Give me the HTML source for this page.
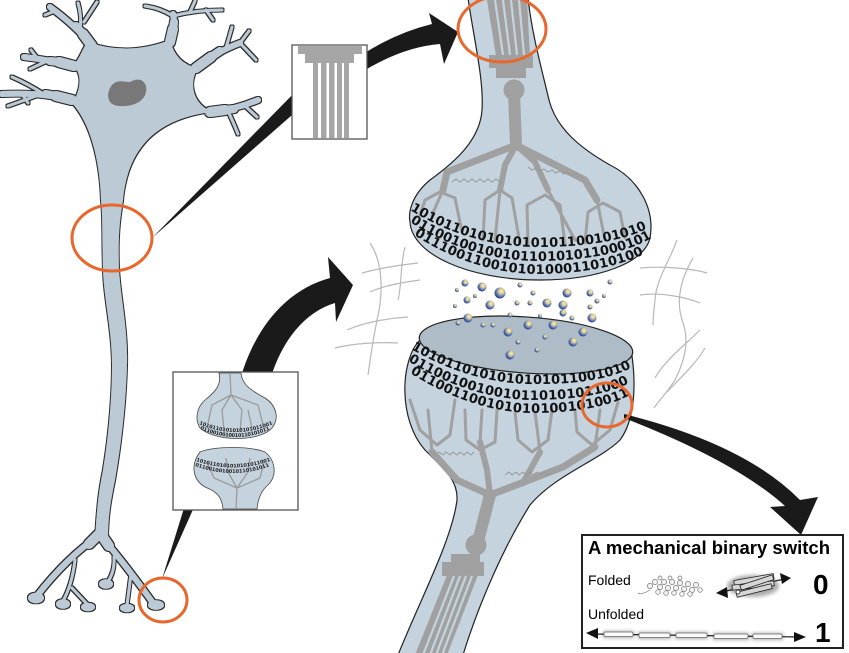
<!DOCTYPE html>
<html><head><meta charset="utf-8"><style>
html,body{margin:0;padding:0;background:#fff;}
svg{display:block;}
</style></head><body>
<svg width="849" height="653" viewBox="0 0 849 653" xmlns="http://www.w3.org/2000/svg">
<defs>
 <radialGradient id="ves" cx="62%" cy="35%" r="70%">
  <stop offset="0" stop-color="#f7f0c6"/>
  <stop offset="0.35" stop-color="#d9ca8c"/>
  <stop offset="0.6" stop-color="#6a83c0"/>
  <stop offset="1" stop-color="#1d347c"/>
 </radialGradient>
 <filter id="blur" x="-30%" y="-80%" width="160%" height="260%"><feGaussianBlur stdDeviation="1.8"/></filter>
 <filter id="outline" filterUnits="userSpaceOnUse" x="0" y="0" width="849" height="653">
  <feMorphology in="SourceAlpha" operator="dilate" radius="0.9" result="d"/>
  <feFlood flood-color="#2c2c2c"/>
  <feComposite in2="d" operator="in" result="o"/>
  <feMerge><feMergeNode in="o"/><feMergeNode in="SourceGraphic"/></feMerge>
 </filter>
 <path id="u1" d="M 410 210 Q 470 247 540 247 Q 610 247 649 228"/>
 <path id="u2" d="M 410 222 Q 470 261 540 261 Q 610 260 648 240"/>
 <path id="u3" d="M 414 235 Q 475 274 540 274 Q 605 273 644 254"/>
 <path id="l1" d="M 411 349 Q 470 383 530 384 Q 600 385 633 367"/>
 <path id="l2" d="M 408 361 Q 468 398 530 400 Q 600 400 633 381"/>
 <path id="l3" d="M 410 373 Q 470 411 530 413 Q 595 413 628 396"/>
 <path id="m1" d="M 199 424 Q 235 440 273 424"/>
 <path id="m2" d="M 200 429 Q 236 445 271 429"/>
 <path id="m3" d="M 196 461 Q 233 474 270 461"/>
 <path id="m4" d="M 195 466 Q 233 480 270 466"/>
</defs>

<rect width="849" height="653" fill="#fff"/>

<!-- fibers -->
<g fill="none" stroke="#b8b8b8" stroke-width="1.2">
 <path d="M 370 243 C 385 265 382 300 377 320 C 372 345 370 360 368 375"/>
 <path d="M 405 247 C 400 265 402 285 398 300"/>
 <path d="M 362 273 C 380 268 400 265 418 263"/>
 <path d="M 370 292 C 385 285 405 282 420 280"/>
 <path d="M 347 330 C 365 322 390 318 408 317"/>
 <path d="M 335 348 C 355 343 380 342 398 343"/>
 <path d="M 677 240 C 670 260 656 280 655 300 C 654 310 653 318 653 325"/>
 <path d="M 693 258 C 680 280 676 300 682 320 C 690 340 685 360 675 380 C 665 395 658 402 654 408"/>
 <path d="M 640 268 C 660 266 690 268 707 273"/>
 <path d="M 640 295 C 660 292 685 297 700 303"/>
 <path d="M 700 330 C 685 345 665 360 655 378"/>
 <path d="M 705 348 C 695 365 680 378 667 392"/>
</g>

<!-- neuron -->
<g filter="url(#outline)">
 <path d="M 88 42 Q 128 56 170 40 Q 176 64 198 68 C 190 80 190 102 212 112 C 160 118 128 145 123 200 C 119 225 118 240 119 270 C 121 300 128 330 127 365 C 126 400 122 440 115 480 C 111 500 108 515 108 540 L 95 540 C 97 505 99 490 103 470 C 108 440 112 400 112 365 C 112 330 104 300 103 270 C 102 240 103 220 101 200 C 100 165 92 125 72 103 C 82 90 82 70 72 66 C 80 60 82 48 88 42 Z" fill="#bccad6"/>
 <g fill="none" stroke="#bccad6" stroke-linecap="round" stroke-linejoin="round">
  <g stroke-width="6">
   <path d="M 92 46 Q 76 26 50 7"/>
   <path d="M 170 42 Q 176 28 173 14"/>
   <path d="M 196 68 Q 216 52 240 43"/>
   <path d="M 210 112 Q 234 110 258 100"/>
   <path d="M 74 66 Q 50 60 24 57"/>
   <path d="M 72 100 Q 40 92 2 94"/>
   <path d="M 100 535 Q 68 556 36 597"/>
   <path d="M 100 535 Q 122 560 153 603"/>
  </g>
  <g stroke-width="10">
   <path d="M 92 46 L 83 34"/>
   <path d="M 170 42 L 173 29"/>
   <path d="M 196 68 L 211 57"/>
   <path d="M 210 112 L 225 110"/>
   <path d="M 74 66 L 59 62"/>
   <path d="M 72 100 L 56 96"/>
   <path d="M 100 533 L 89 544"/>
   <path d="M 100 533 L 109 546"/>
  </g>
  <g stroke-width="8">
   <path d="M 83 34 L 76 26"/>
   <path d="M 173 29 L 174 22"/>
   <path d="M 211 57 L 220 51"/>
   <path d="M 225 110 L 234 109"/>
   <path d="M 59 62 L 50 61"/>
   <path d="M 56 96 L 46 94"/>
  </g>
  <g stroke-width="3">
   <path d="M 80 30 Q 82 16 78 3"/>
   <path d="M 84 22 L 97 2"/>
   <path d="M 55 11 L 45 15"/>
   <path d="M 173 16 Q 160 8 145 6"/>
   <path d="M 173 16 Q 196 10 222 10"/>
   <path d="M 190 12 L 195 1"/>
   <path d="M 206 10 L 213 20"/>
   <path d="M 240 43 L 256 60"/>
   <path d="M 240 43 L 249 31"/>
   <path d="M 226 48 L 232 27"/>
   <path d="M 244 105 L 257 117"/>
   <path d="M 228 111 Q 234 124 238 134"/>
   <path d="M 47 61 L 30 69"/>
   <path d="M 38 59 L 31 50"/>
   <path d="M 42 93 Q 28 84 12 77"/>
   <path d="M 36 96 L 8 106"/>
   <path d="M 22 94 L 28 103"/>
   <path d="M 75 560 Q 72 585 63 601"/>
   <path d="M 72 588 L 88 605"/>
   <path d="M 114 557 Q 115 572 107 583"/>
   <path d="M 131 574 L 127 605"/>
  </g>
 </g>
 <g fill="#bccad6">
  <ellipse cx="36" cy="598" rx="8" ry="5.3"/>
  <ellipse cx="63" cy="604" rx="7" ry="4.8"/>
  <ellipse cx="88" cy="607" rx="7" ry="4.3"/>
  <ellipse cx="106" cy="584" rx="7" ry="4.8"/>
  <ellipse cx="127" cy="608" rx="7" ry="4.3"/>
  <ellipse cx="156" cy="605" rx="8" ry="4.8"/>
 </g>
</g>
<path d="M 110 88 C 115 78 125 82 130 82 C 140 76 148 82 146 92 C 144 102 132 107 120 106 C 108 106 106 96 110 88 Z" fill="#787878"/>

<!-- arrows (left) -->
<g fill="#1a1a1a">
 <path d="M 152 238 L 300 87 L 300 108 Z"/>
 <path d="M 360 56 Q 395 33 432 24 L 429 13 L 458 32 L 444 64 L 440 44 Q 402 47 360 73 Z"/>
 <path d="M 162 579 L 185 505 L 195 505 Z"/>
 <path d="M 240 380 C 254 330 285 290 330 278 L 328 257 L 353 285 L 336 322 L 335 303 C 305 312 282 340 270 380 Z"/>
</g>

<!-- top inset -->
<rect x="292" y="45" width="75" height="94" fill="#fff" stroke="#555" stroke-width="1.3"/>
<g fill="#a6a6a6">
 <rect x="298" y="46" width="64" height="8"/>
 <rect x="305" y="53" width="49" height="10"/>
 <rect x="313" y="62" width="5" height="76"/>
 <rect x="321" y="62" width="5.5" height="76"/>
 <rect x="329" y="62" width="5.5" height="76"/>
 <rect x="337" y="62" width="5" height="76"/>
 <rect x="344" y="62" width="5" height="76"/>
</g>

<!-- bottom inset -->
<rect x="173" y="372" width="125" height="138" fill="#fff" stroke="#555" stroke-width="1.3"/>
<path d="M 219 373 C 222 385 215 392 205 400 C 196 408 195 420 200 428 C 215 442 260 442 272 428 C 280 418 276 405 265 398 C 250 390 242 384 241 373 Z" fill="#c4d3de" stroke="#444" stroke-width="0.8"/>
<path d="M 200 452 C 190 465 193 480 205 487 C 218 492 222 498 223 509 L 257 509 C 258 498 262 490 268 485 C 278 475 275 460 265 452 C 250 446 215 446 200 452 Z" fill="#c4d3de" stroke="#444" stroke-width="0.8"/>
<g fill="none" stroke="#9a9a9a" stroke-width="1.3">
 <path d="M 230 373 L 231 395 L 212 405 L 208 423 M 231 395 L 222 410 L 224 430 M 231 395 L 242 410 L 240 432 M 231 395 L 258 405 L 263 425 M 248 410 L 252 428"/>
 <path d="M 236 509 L 237 488 L 214 478 L 207 462 M 237 488 L 228 472 L 226 458 M 237 488 L 248 472 L 250 458 M 237 488 L 260 478 L 264 462"/>
</g>
<g font-family="DejaVu Sans" font-weight="bold" font-size="5" fill="#222">
 <text><textPath href="#m1" textLength="76" lengthAdjust="spacing">1010110101010101011001</textPath></text>
 <text><textPath href="#m2" textLength="72" lengthAdjust="spacing">0110010010010110101011</textPath></text>
 <text><textPath href="#m3" textLength="76" lengthAdjust="spacing">1010110101010101011001</textPath></text>
 <text><textPath href="#m4" textLength="76" lengthAdjust="spacing">0110010010010110101011</textPath></text>
</g>

<!-- upper bulb -->
<path d="M 468 -2 C 474 40 484 80 482 110 C 480 140 455 162 430 180 C 412 195 408 212 410 222 C 412 255 470 280 540 280 C 600 280 645 262 650 238 C 655 210 640 180 610 165 C 580 148 556 128 549 100 C 542 70 532 35 528 -2 Z" fill="#c4d3de" stroke="#222" stroke-width="1.2"/>
<g fill="#a0a0a0">
 <path d="M 487 0 L 527 0 L 530 56 L 496 56 Z"/>
 <rect x="489" y="55" width="44" height="13"/>
 <rect x="496" y="67" width="30" height="11"/>
 <circle cx="514" cy="90" r="10.5"/>
</g>
<g stroke="#c4d3de" stroke-width="2.2">
 <line x1="495" y1="0" x2="503" y2="55"/>
 <line x1="503" y1="0" x2="510" y2="55"/>
 <line x1="511" y1="0" x2="517" y2="55"/>
 <line x1="519" y1="0" x2="524" y2="55"/>
</g>
<g fill="none" stroke="#a0a0a0" stroke-linecap="round" stroke-linejoin="round">
 <path d="M 514 92 L 516 145" stroke-width="12"/>
 <path d="M 516 145 L 447 172 L 443 190" stroke-width="7"/>
 <path d="M 516 145 L 505 165 L 500 190" stroke-width="6"/>
 <path d="M 516 145 L 535 162 L 548 190" stroke-width="6"/>
 <path d="M 516 145 L 585 180 L 597 200" stroke-width="7"/>
 <g stroke-width="3">
  <path d="M 420 215 L 425 200 L 440 192 L 455 198 L 462 232"/>
  <path d="M 483 240 L 485 200 L 500 190 L 512 198 L 520 244"/>
  <path d="M 528 245 L 527 205 L 545 195 L 560 205 L 565 245"/>
  <path d="M 585 243 L 588 212 L 603 203 L 620 212 L 625 238"/>
  <path d="M 443 190 L 432 215 M 500 190 L 495 240 M 548 190 L 575 240 M 597 200 L 605 240"/>
 </g>
</g>
<g fill="none" stroke="#999" stroke-width="1">
 <path d="M 452 182 l 4 -3 l 4 3 l 4 -3 l 4 3 l 4 -3 l 4 3 l 4 -3 l 4 3 l 4 -3 l 4 3 l 4 -3 l 4 3"/>
 <path d="M 528 167 l 4 3 l 4 -2 l 4 3 l 4 -2 l 4 3 l 4 -2 l 4 3 l 4 -2 l 4 3 l 4 -2 l 4 3 l 4 -2 l 4 3"/>
</g>
<g font-family="DejaVu Sans" font-weight="bold" font-size="13" fill="#111">
 <text><textPath href="#u1" textLength="255" lengthAdjust="spacing">1010110101010101011001010101</textPath></text>
 <text><textPath href="#u2" textLength="253" lengthAdjust="spacing">0110010010010110101011000101</textPath></text>
 <text><textPath href="#u3" textLength="240" lengthAdjust="spacing">01110011001010100011010100</textPath></text>
</g>

<!-- lower bulb -->
<path d="M 420 340 C 400 360 398 420 425 450 C 445 470 458 480 457 500 C 452 540 420 600 398 655 L 463 655 C 480 600 505 545 530 505 C 555 475 600 460 620 440 C 635 420 636 385 632 356 Z" fill="#c4d3de" stroke="#222" stroke-width="1.2"/>
<g fill="#a0a0a0">
 <path d="M 447 575 L 478 575 L 447 655 L 415 655 Z"/>
 <rect x="442" y="562" width="42" height="14"/>
 <rect x="451" y="554" width="29" height="9"/>
 <circle cx="476" cy="545" r="10.5"/>
</g>
<g stroke="#c4d3de" stroke-width="2.2">
 <line x1="454" y1="576" x2="423" y2="655"/>
 <line x1="460" y1="576" x2="430" y2="655"/>
 <line x1="466" y1="576" x2="436" y2="655"/>
 <line x1="472" y1="576" x2="442" y2="655"/>
</g>
<g fill="none" stroke="#a0a0a0" stroke-linecap="round" stroke-linejoin="round">
 <path d="M 477 545 L 490 495" stroke-width="12"/>
 <path d="M 490 495 L 457 480 L 432 452" stroke-width="7"/>
 <path d="M 490 495 L 487 470 L 480 442" stroke-width="6"/>
 <path d="M 490 495 L 523 483 L 540 452" stroke-width="6"/>
 <path d="M 490 495 L 563 467 L 595 447" stroke-width="7"/>
 <g stroke-width="3">
  <path d="M 410 400 L 420 430 L 437 445 L 450 435 L 455 400"/>
  <path d="M 465 410 L 466 440 L 480 450 L 495 442 L 497 410"/>
  <path d="M 515 412 L 518 440 L 532 452 L 548 440 L 552 410"/>
  <path d="M 575 410 L 577 432 L 592 445 L 610 430 L 618 402"/>
  <path d="M 432 452 L 428 410 M 480 442 L 482 410 M 540 452 L 535 412 M 595 447 L 600 410"/>
 </g>
</g>
<g fill="none" stroke="#999" stroke-width="1">
 <path d="M 432 452 l 4 3 l 3 -3 l 4 3 l 3 -3 l 4 3 l 3 -3 l 4 3 l 3 -3 l 4 3 l 3 -3 l 4 3 l 3 -3"/>
 <path d="M 505 475 l 4 -3 l 3 3 l 4 -3 l 3 3 l 4 -3 l 3 3 l 4 -3 l 3 3 l 4 -3 l 3 3 l 4 -3 l 3 3 l 4 -3"/>
</g>
<ellipse cx="526" cy="345" rx="107" ry="28" transform="rotate(4 526 345)" fill="#aebcc7" stroke="#222" stroke-width="1.2"/>
<g font-family="DejaVu Sans" font-weight="bold" font-size="13" fill="#111">
 <text><textPath href="#l1" textLength="238" lengthAdjust="spacing">10101101010101010110010101</textPath></text>
 <text><textPath href="#l2" textLength="240" lengthAdjust="spacing">01100100100101101010110001</textPath></text>
 <text><textPath href="#l3" textLength="230" lengthAdjust="spacing">0110011001010101001010011</textPath></text>
</g>

<!-- vesicles -->
<g fill="url(#ves)">
 <circle cx="465" cy="283" r="3.5"/><circle cx="482" cy="287" r="4.5"/><circle cx="500" cy="293" r="5.5"/>
 <circle cx="520" cy="285" r="2.5"/><circle cx="533" cy="293" r="2.5"/><circle cx="567" cy="293" r="4.5"/>
 <circle cx="590" cy="293" r="3.5"/><circle cx="610" cy="282" r="2.5"/><circle cx="457" cy="290" r="2"/>
 <circle cx="467" cy="300" r="3.5"/><circle cx="490" cy="305" r="4.5"/><circle cx="517" cy="303" r="2.5"/>
 <circle cx="530" cy="303" r="2.5"/><circle cx="547" cy="303" r="4.5"/><circle cx="563" cy="305" r="4.5"/>
 <circle cx="590" cy="307" r="2.5"/><circle cx="597" cy="301" r="2.5"/><circle cx="458" cy="323" r="2.5"/>
 <circle cx="468" cy="318" r="4.5"/><circle cx="483" cy="325" r="2.5"/><circle cx="493" cy="325" r="2.5"/>
 <circle cx="510" cy="315" r="2.5"/><circle cx="528" cy="325" r="4.5"/><circle cx="553" cy="325" r="4.5"/>
 <circle cx="563" cy="313" r="3.5"/><circle cx="572" cy="318" r="2.5"/><circle cx="592" cy="318" r="4.5"/>
 <circle cx="508" cy="332" r="4.5"/><circle cx="518" cy="342" r="2.5"/><circle cx="545" cy="337" r="2.5"/>
 <circle cx="573" cy="342" r="4.5"/><circle cx="583" cy="332" r="4.5"/><circle cx="510" cy="355" r="4.5"/>
 <circle cx="537" cy="350" r="2.5"/><circle cx="475" cy="296" r="2"/><circle cx="604" cy="296" r="2"/>
 <circle cx="455" cy="306" r="2"/><circle cx="540" cy="316" r="2"/>
</g>

<!-- arrow 3 -->
<path d="M 624 414 Q 745 444 800 500 L 818 497 L 801 535 L 770 507 L 785 506 Q 735 461 624 418 Z" fill="#1a1a1a"/>

<!-- orange circles -->
<g fill="none" stroke="#e8672c" stroke-width="3">
 <ellipse cx="112" cy="238" rx="40" ry="33"/>
 <ellipse cx="163" cy="600" rx="24" ry="22"/>
 <ellipse cx="502" cy="29" rx="44" ry="33"/>
 <ellipse cx="607" cy="405" rx="25" ry="22"/>
</g>

<!-- switch box -->
<rect x="582" y="535" width="261" height="113" fill="#fff" stroke="#222" stroke-width="2"/>
<text x="588" y="554" font-family="Liberation Sans, sans-serif" font-weight="bold" font-size="18" textLength="242" lengthAdjust="spacingAndGlyphs" fill="#000">A mechanical binary switch</text>
<text x="588" y="585" font-family="Liberation Sans, sans-serif" font-size="14" fill="#000">Folded</text>
<text x="588" y="619" font-family="Liberation Sans, sans-serif" font-size="14" fill="#000">Unfolded</text>
<text x="813" y="594" font-family="Liberation Sans, sans-serif" font-weight="bold" font-size="28" fill="#000">0</text>
<text x="815" y="642" font-family="Liberation Sans, sans-serif" font-weight="bold" font-size="28" fill="#000">1</text>
<!-- folded protein -->
<g fill="#f2f2f2" stroke="#777" stroke-width="0.7">
 <path d="M 650 590 Q 642 595 638 593" fill="none"/>
 <circle cx="650" cy="586" r="2.6"/><circle cx="655" cy="582" r="2.6"/><circle cx="660" cy="587" r="2.6"/>
 <circle cx="664" cy="582" r="2.6"/><circle cx="668" cy="588" r="2.6"/><circle cx="672" cy="582" r="2.6"/>
 <circle cx="676" cy="588" r="2.6"/><circle cx="680" cy="583" r="2.6"/><circle cx="684" cy="589" r="2.6"/>
 <circle cx="688" cy="584" r="2.6"/><circle cx="692" cy="590" r="2.6"/><circle cx="696" cy="585" r="2.6"/>
 <circle cx="700" cy="590" r="2.3"/><circle cx="658" cy="592" r="2.3"/><circle cx="666" cy="593" r="2.3"/>
 <circle cx="674" cy="593" r="2.3"/><circle cx="682" cy="594" r="2.3"/><circle cx="690" cy="594" r="2.3"/>
 <circle cx="660" cy="578" r="2"/><circle cx="670" cy="578" r="2"/><circle cx="680" cy="578" r="2"/>
</g>
<!-- rod bundle -->
<ellipse cx="753" cy="586" rx="26" ry="11" fill="#777" opacity="0.6" filter="url(#blur)"/>
<line x1="721" y1="592" x2="785" y2="579" stroke="#222" stroke-width="1.2"/>
<path d="M 716 593 L 727 587 L 728 598 Z" fill="#111"/>
<path d="M 791 578 L 780 573 L 782 584 Z" fill="#111"/>
<g fill="#d6d6d6" stroke="#222" stroke-width="0.8">
 <rect x="734" y="577" width="40" height="5" transform="rotate(-10 754 580)"/>
 <rect x="732" y="583" width="42" height="5" transform="rotate(-6 753 585)"/>
 <rect x="736" y="588" width="36" height="5" transform="rotate(-14 754 590)"/>
 <rect x="740" y="580" width="34" height="5" transform="rotate(-18 757 583)"/>
</g>
<circle cx="738" cy="592" r="2" fill="#fff" stroke="#222" stroke-width="0.8"/>
<!-- unfolded -->
<g fill="#777" opacity="0.6" filter="url(#blur)">
 <rect x="603" y="631" width="31" height="7"/><rect x="638" y="632" width="33" height="7"/>
 <rect x="675" y="632" width="33" height="7"/><rect x="713" y="633" width="36" height="7"/>
 <rect x="752" y="633" width="31" height="7"/>
</g>
<line x1="592" y1="634" x2="800" y2="637" stroke="#222" stroke-width="1.2"/>
<path d="M 586 633 L 598 628 L 598 639 Z" fill="#111"/>
<path d="M 806 637 L 794 632 L 794 642 Z" fill="#111"/>
<g fill="#fafafa" stroke="#666" stroke-width="0.7">
 <rect x="604" y="632" width="29" height="4.5" rx="1.5"/><rect x="639" y="633" width="31" height="4.5" rx="1.5"/>
 <rect x="676" y="633" width="31" height="4.5" rx="1.5"/><rect x="714" y="634" width="34" height="4.5" rx="1.5"/>
 <rect x="753" y="634" width="29" height="4.5" rx="1.5"/>
</g>
</svg>
</body></html>
